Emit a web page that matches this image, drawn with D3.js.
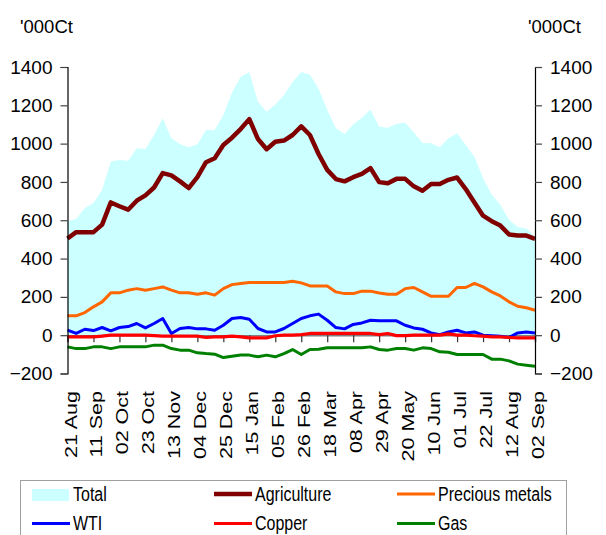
<!DOCTYPE html>
<html><head><meta charset="utf-8">
<script src="https://cdn.jsdelivr.net/npm/d3@7"></script>
<style>body{margin:0;background:#fff}svg{display:block}text{font-family:"Liberation Sans",Arial,sans-serif;fill:#000}</style>
</head><body><svg id="c" width="606" height="535"></svg>
<script>
const weeks = ["21 Aug","28 Aug","04 Sep","11 Sep","18 Sep","25 Sep","02 Oct","09 Oct","16 Oct","23 Oct","30 Oct","06 Nov","13 Nov","20 Nov","27 Nov","04 Dec","11 Dec","18 Dec","25 Dec","01 Jan","08 Jan","15 Jan","22 Jan","29 Jan","05 Feb","12 Feb","19 Feb","26 Feb","04 Mar","11 Mar","18 Mar","25 Mar","01 Apr","08 Apr","15 Apr","22 Apr","29 Apr","06 May","13 May","20 May","27 May","03 Jun","10 Jun","17 Jun","24 Jun","01 Jul","08 Jul","15 Jul","22 Jul","29 Jul","05 Aug","12 Aug","19 Aug","26 Aug","02 Sep"];
const tickLabels = ["21 Aug","11 Sep","02 Oct","23 Oct","13 Nov","04 Dec","25 Dec","15 Jan","05 Feb","26 Feb","18 Mar","08 Apr","29 Apr","20 May","10 Jun","01 Jul","22 Jul","12 Aug","02 Sep"];
const yTicks = [-200,0,200,400,600,800,1000,1200,1400];
const total = [595,607,664,690,759,907,915,910,976,972,1045,1132,1028,997,981,997,1071,1071,1149,1267,1348,1374,1218,1166,1204,1253,1322,1374,1360,1287,1175,1080,1050,1100,1135,1178,1088,1083,1102,1109,1059,1003,1002,981,1028,1054,993,932,820,733,681,603,565,557,515];
const agriculture = [505,538,538,538,577,693,673,655,702,730,771,846,834,803,768,825,903,924,993,1031,1076,1128,1024,971,1010,1016,1045,1090,1045,946,863,815,803,825,842,872,799,793,816,816,777,754,789,789,811,823,763,693,624,595,572,526,520,520,503];
const precious = [101,101,118,148,174,221,221,235,243,235,243,252,235,221,221,214,221,209,243,264,270,275,275,275,275,275,282,273,257,257,257,226,217,217,230,230,220,214,214,243,249,226,203,203,203,249,249,270,252,226,205,174,151,143,130];
const wti = [26,9,31,24,40,23,40,45,61,38,61,87,9,35,40,33,33,26,52,87,92,83,35,17,17,35,61,87,101,110,78,40,33,56,64,78,75,75,75,52,38,31,12,3,17,26,12,17,0,-3,-5,-12,12,17,12];
const copper = [-9,-9,-9,-9,-5,0,0,0,0,0,-2,-5,-5,-5,-5,-5,-12,-9,-9,-5,-9,-14,-14,-14,-3,0,0,3,9,9,9,9,9,9,9,9,3,9,-2,-2,0,0,0,0,7,0,0,-3,-5,-9,-9,-12,-14,-14,-14];
const gas = [-61,-70,-70,-61,-61,-70,-61,-61,-61,-61,-52,-52,-70,-78,-78,-92,-96,-99,-117,-110,-104,-104,-113,-104,-113,-96,-75,-101,-75,-73,-66,-66,-66,-66,-66,-61,-75,-78,-70,-70,-78,-66,-70,-87,-89,-101,-101,-101,-101,-125,-125,-134,-151,-157,-162];
const lineSeries = [
  {name:"Agriculture", values:agriculture, color:"#800000", width:4.5},
  {name:"Precious metals", values:precious, color:"#FF6600", width:3},
  {name:"WTI", values:wti, color:"#0000FF", width:3},
  {name:"Copper", values:copper, color:"#FF0000", width:3.2},
  {name:"Gas", values:gas, color:"#008000", width:3}
];

const svg = d3.select("#c");
const L = 67.5, R = 535;
const x = d3.scalePoint().domain(weeks).range([L, R]);
const y = d3.scaleLinear().domain([-200, 1400]).range([373.5, 67]);

// Total area
svg.append("path").datum(total)
  .attr("d", d3.area().x((d,i)=>x(weeks[i])).y0(y(0)).y1(d=>y(d)))
  .attr("fill", "#CCFFFF");

// zero axis
const xAxis = d3.axisBottom(x).tickValues(tickLabels).tickSize(7).tickFormat("");
const gx = svg.append("g").attr("transform", `translate(0,${y(0)})`).call(xAxis);
gx.select(".domain").attr("stroke", "#808080").attr("stroke-width", 1.5);
gx.selectAll(".tick line").attr("stroke", "#333").attr("stroke-width", 1.2);

// lines
lineSeries.forEach(s => {
  svg.append("path").datum(s.values)
    .attr("d", d3.line().x((d,i)=>x(weeks[i])).y(d=>y(d)))
    .attr("fill", "none").attr("stroke", s.color).attr("stroke-width", s.width)
    .attr("stroke-linejoin", "round");
});

// x labels
svg.append("g").selectAll("text").data(tickLabels).join("text")
  .attr("transform", d => `translate(${x(d)+9},391) rotate(-90) scale(1,0.76)`)
  .attr("text-anchor", "end").attr("font-size", 21.5).text(d => d);

// y axes
const fmt = d3.format("d");
const yl = d3.axisLeft(y).tickValues(yTicks).tickSize(7).tickPadding(8).tickFormat(fmt);
const gl = svg.append("g").attr("transform", `translate(${L},0)`).call(yl);
const yr = d3.axisRight(y).tickValues(yTicks).tickSize(7).tickPadding(8).tickFormat(fmt);
const gr = svg.append("g").attr("transform", `translate(${R},0)`).call(yr);
[gl, gr].forEach(g => {
  g.select(".domain").attr("stroke", "#000").attr("stroke-width", 1.2);
  g.selectAll(".tick line").attr("stroke", "#444").attr("stroke-width", 1.2);
  g.selectAll(".tick text").attr("font-size", 19).attr("font-family", "Liberation Sans, Arial, sans-serif").attr("fill", "#000");
});

svg.append("text").attr("x", 20).attr("y", 33).attr("font-size", 18.5).text("'000Ct");
svg.append("text").attr("x", 528).attr("y", 33).attr("font-size", 18.5).text("'000Ct");

// legend
const lg = svg.append("g");
lg.append("rect").attr("x", 20.5).attr("y", 480.5).attr("width", 546).attr("height", 70)
  .attr("fill", "#fff").attr("stroke", "#A0A0A0").attr("stroke-width", 1);
const legendItems = [
  {name:"Total", type:"area", color:"#CCFFFF", col:0, row:0},
  {name:"Agriculture", color:"#800000", w:4.5, col:1, row:0},
  {name:"Precious metals", color:"#FF6600", w:3, col:2, row:0},
  {name:"WTI", color:"#0000FF", w:3, col:0, row:1},
  {name:"Copper", color:"#FF0000", w:3, col:1, row:1},
  {name:"Gas", color:"#008000", w:3, col:2, row:1}
];
const colX = [32, 214, 397];
const rowY = [494, 523.5];
legendItems.forEach(it => {
  const x0 = colX[it.col], yy = rowY[it.row];
  if (it.type === "area") {
    lg.append("rect").attr("x", x0).attr("y", yy-5).attr("width", 37).attr("height", 12).attr("fill", it.color);
  } else {
    lg.append("line").attr("x1", x0).attr("x2", x0+38).attr("y1", yy).attr("y2", yy)
      .attr("stroke", it.color).attr("stroke-width", it.w);
  }
  lg.append("text").attr("transform", `translate(${x0+41},${yy+6.5}) scale(0.82,1)`)
    .attr("font-size", 19.5).text(it.name);
});
</script></body></html>
